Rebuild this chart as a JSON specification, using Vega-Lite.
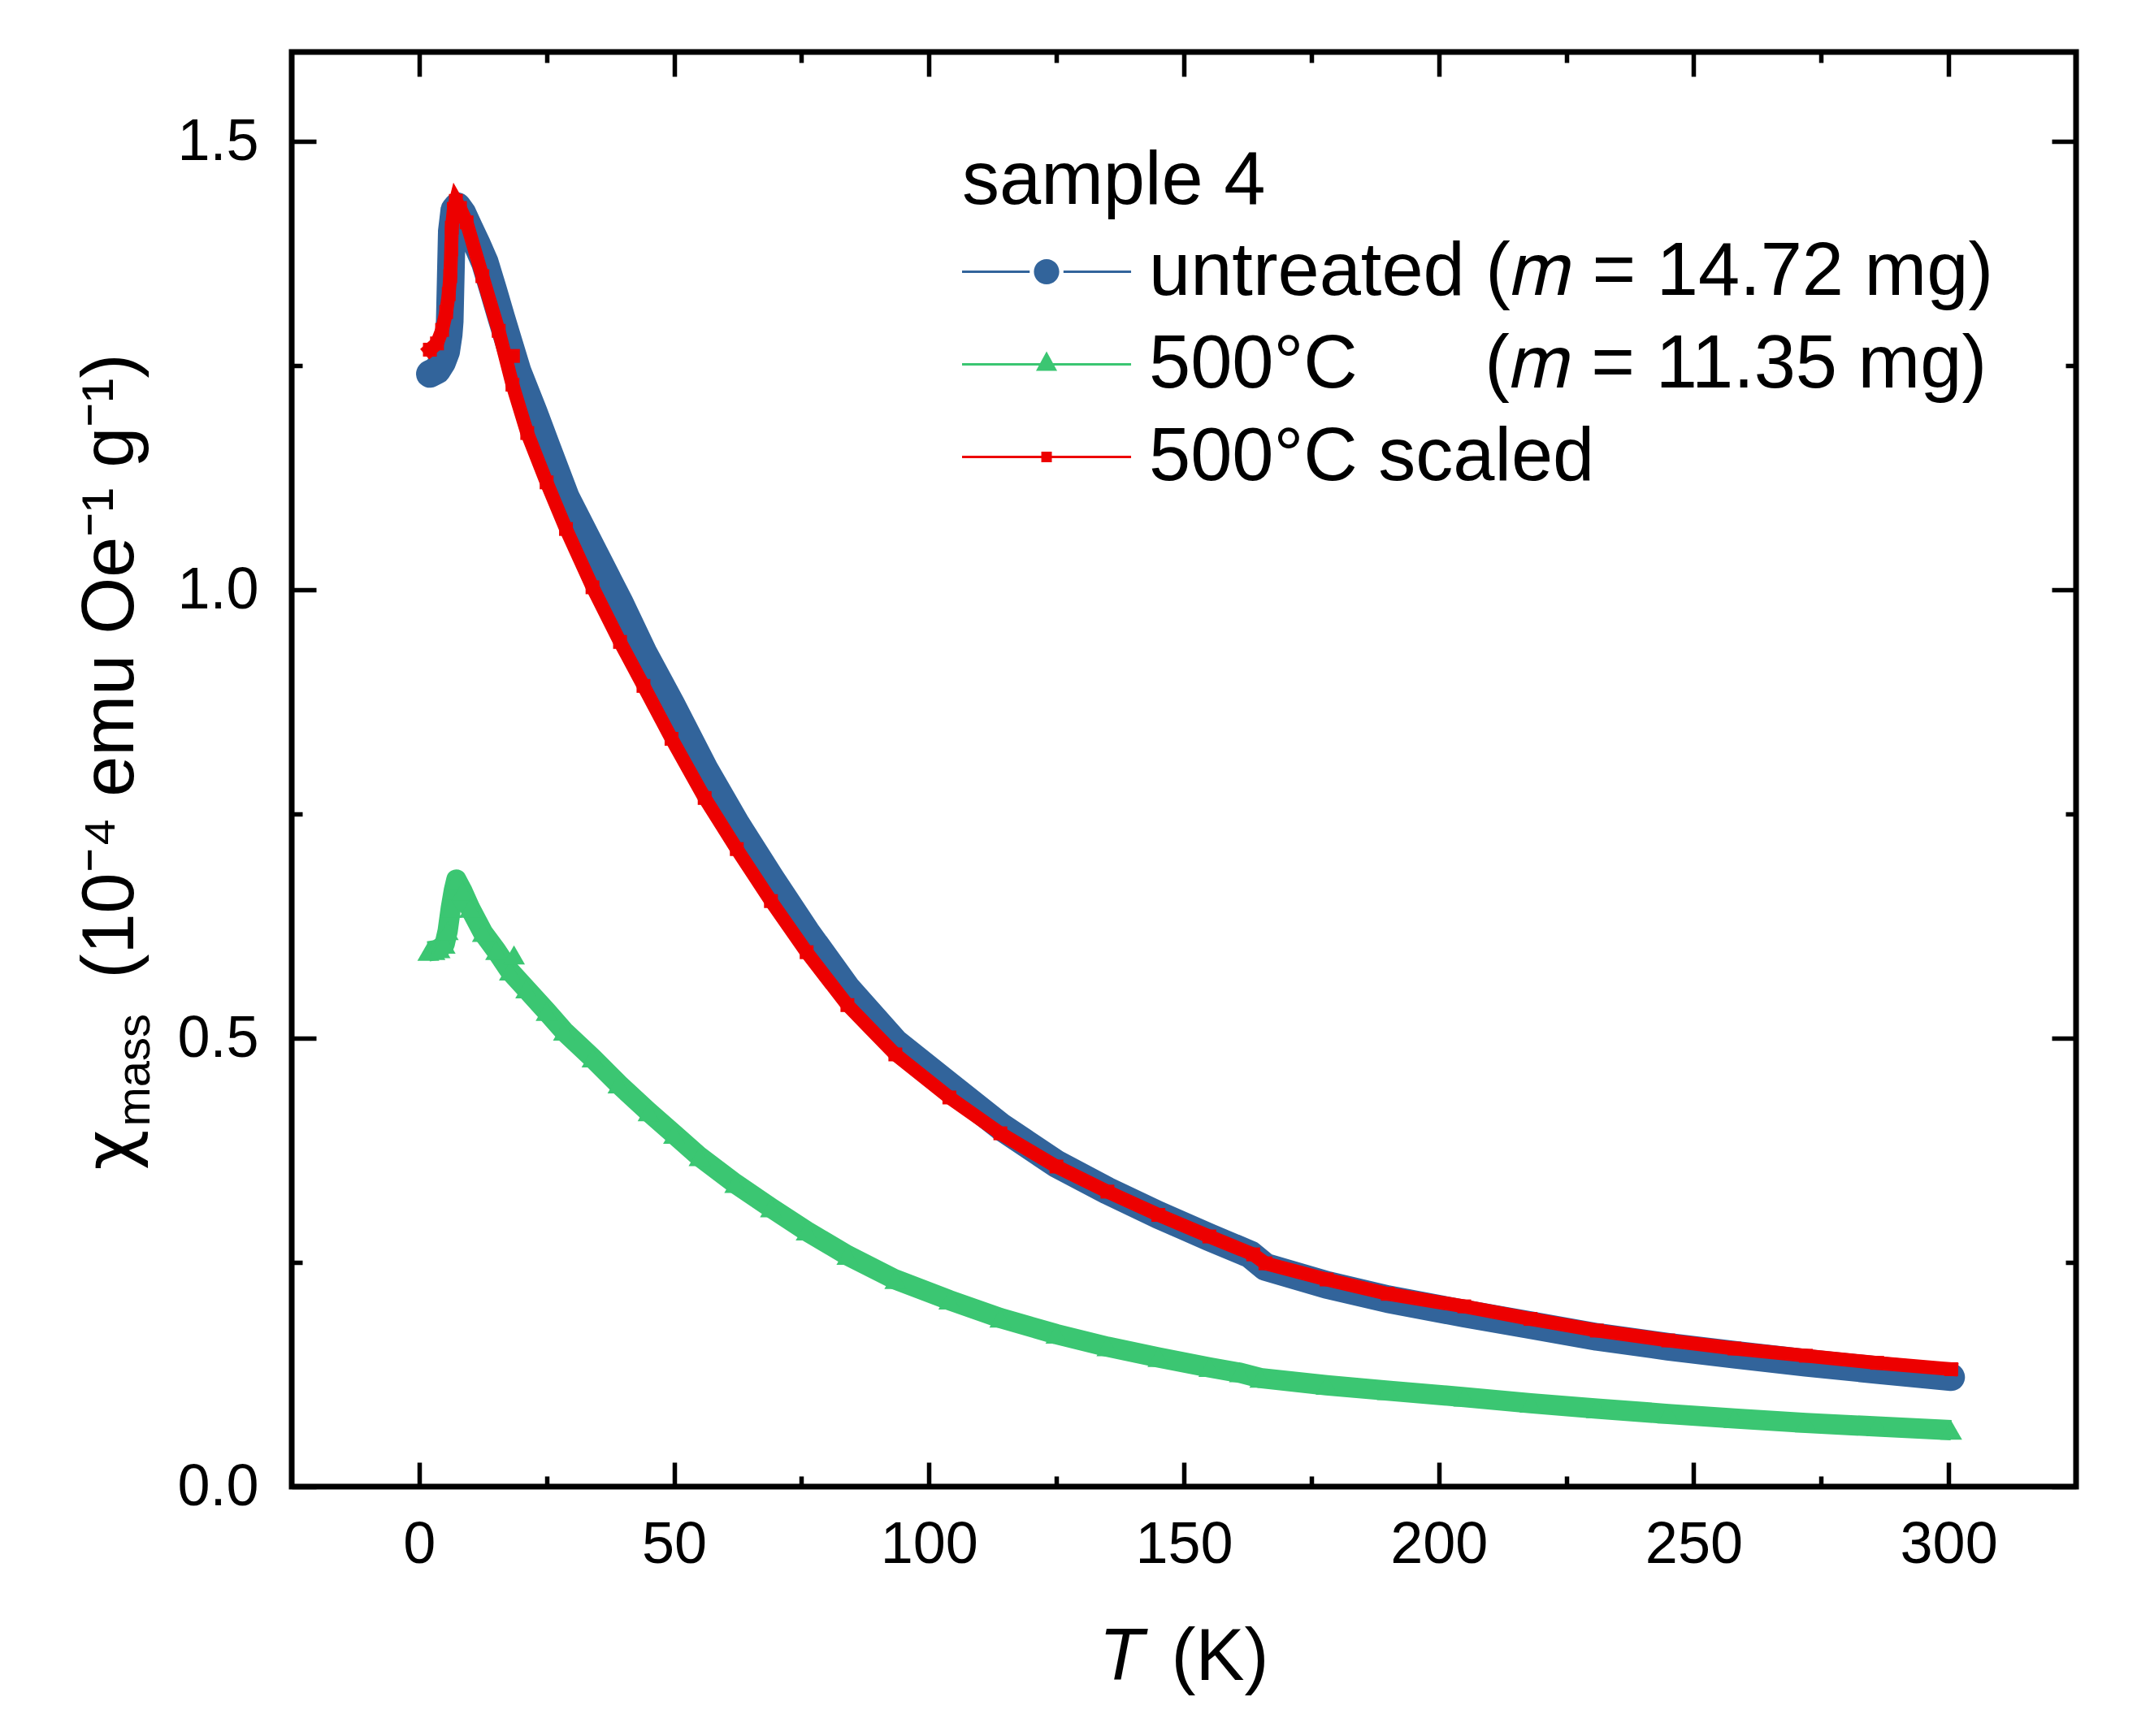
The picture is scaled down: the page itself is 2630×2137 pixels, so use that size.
{
  "$schema": "https://vega.github.io/schema/vega-lite/v6.json",
  "width": 2196,
  "height": 1766,
  "autosize": {"type": "none"},
  "padding": {"left": 359, "top": 64, "right": 75, "bottom": 307},
  "background": "white",
  "config": {
    "font": "Liberation Sans",
    "view": {"stroke": "black", "strokeWidth": 7},
    "axis": {
      "domain": false, "grid": false, "tickColor": "black", "tickWidth": 5.5,
      "labelColor": "black", "titleColor": "black", "titleFontWeight": "normal",
      "labelFont": "Liberation Sans", "titleFont": "Liberation Sans"
    }
  },
  "data": {
    "values": [
      {"series": "untreated", "T": 2.1, "chi": 1.241},
      {"series": "untreated", "T": 3.5, "chi": 1.245},
      {"series": "untreated", "T": 4.5, "chi": 1.254},
      {"series": "untreated", "T": 5.3, "chi": 1.266},
      {"series": "untreated", "T": 5.8, "chi": 1.285},
      {"series": "untreated", "T": 6.0, "chi": 1.30},
      {"series": "untreated", "T": 6.2, "chi": 1.35},
      {"series": "untreated", "T": 6.4, "chi": 1.40},
      {"series": "untreated", "T": 6.9, "chi": 1.424},
      {"series": "untreated", "T": 7.5, "chi": 1.428},
      {"series": "untreated", "T": 8.5, "chi": 1.42},
      {"series": "untreated", "T": 9.8, "chi": 1.404},
      {"series": "untreated", "T": 11.3, "chi": 1.386},
      {"series": "untreated", "T": 12.9, "chi": 1.365},
      {"series": "untreated", "T": 14.5, "chi": 1.335},
      {"series": "untreated", "T": 16.1, "chi": 1.304},
      {"series": "untreated", "T": 17.7, "chi": 1.274},
      {"series": "untreated", "T": 19.3, "chi": 1.244},
      {"series": "untreated", "T": 22.5, "chi": 1.198},
      {"series": "untreated", "T": 25, "chi": 1.16},
      {"series": "untreated", "T": 28.8, "chi": 1.103},
      {"series": "untreated", "T": 34, "chi": 1.045},
      {"series": "untreated", "T": 39.4, "chi": 0.985},
      {"series": "untreated", "T": 44, "chi": 0.93},
      {"series": "untreated", "T": 49.5, "chi": 0.872},
      {"series": "untreated", "T": 56, "chi": 0.80},
      {"series": "untreated", "T": 62.3, "chi": 0.738},
      {"series": "untreated", "T": 69, "chi": 0.678},
      {"series": "untreated", "T": 76, "chi": 0.618},
      {"series": "untreated", "T": 84, "chi": 0.555},
      {"series": "untreated", "T": 93.4, "chi": 0.495},
      {"series": "untreated", "T": 104, "chi": 0.447},
      {"series": "untreated", "T": 114, "chi": 0.402},
      {"series": "untreated", "T": 125, "chi": 0.36},
      {"series": "untreated", "T": 135, "chi": 0.33},
      {"series": "untreated", "T": 145, "chi": 0.303},
      {"series": "untreated", "T": 155, "chi": 0.278},
      {"series": "untreated", "T": 163, "chi": 0.259},
      {"series": "untreated", "T": 166, "chi": 0.245},
      {"series": "untreated", "T": 178, "chi": 0.225},
      {"series": "untreated", "T": 190, "chi": 0.209},
      {"series": "untreated", "T": 205, "chi": 0.193},
      {"series": "untreated", "T": 218, "chi": 0.180},
      {"series": "untreated", "T": 231, "chi": 0.167},
      {"series": "untreated", "T": 245, "chi": 0.156},
      {"series": "untreated", "T": 258, "chi": 0.147},
      {"series": "untreated", "T": 272, "chi": 0.138},
      {"series": "untreated", "T": 286, "chi": 0.130},
      {"series": "untreated", "T": 300.5, "chi": 0.122},

      {"series": "500°C", "T": 1.8, "chi": 0.597},
      {"series": "500°C", "T": 3, "chi": 0.598},
      {"series": "500°C", "T": 4, "chi": 0.600},
      {"series": "500°C", "T": 5, "chi": 0.605},
      {"series": "500°C", "T": 5.6, "chi": 0.62},
      {"series": "500°C", "T": 6.2, "chi": 0.645},
      {"series": "500°C", "T": 6.8, "chi": 0.665},
      {"series": "500°C", "T": 7.3, "chi": 0.677},
      {"series": "500°C", "T": 8.5, "chi": 0.664},
      {"series": "500°C", "T": 10, "chi": 0.645},
      {"series": "500°C", "T": 12.5, "chi": 0.618},
      {"series": "500°C", "T": 15.1, "chi": 0.598},
      {"series": "500°C", "T": 17.8, "chi": 0.575},
      {"series": "500°C", "T": 18.6, "chi": 0.593, "out": 1},
      {"series": "500°C", "T": 21, "chi": 0.555},
      {"series": "500°C", "T": 25, "chi": 0.53},
      {"series": "500°C", "T": 28.4, "chi": 0.508},
      {"series": "500°C", "T": 34, "chi": 0.478},
      {"series": "500°C", "T": 39.1, "chi": 0.449},
      {"series": "500°C", "T": 45, "chi": 0.418},
      {"series": "500°C", "T": 50, "chi": 0.393},
      {"series": "500°C", "T": 55, "chi": 0.368},
      {"series": "500°C", "T": 62, "chi": 0.338},
      {"series": "500°C", "T": 69, "chi": 0.311},
      {"series": "500°C", "T": 76, "chi": 0.285},
      {"series": "500°C", "T": 84, "chi": 0.258},
      {"series": "500°C", "T": 93.4, "chi": 0.231},
      {"series": "500°C", "T": 104, "chi": 0.208},
      {"series": "500°C", "T": 114, "chi": 0.188},
      {"series": "500°C", "T": 125, "chi": 0.170},
      {"series": "500°C", "T": 135, "chi": 0.156},
      {"series": "500°C", "T": 145, "chi": 0.144},
      {"series": "500°C", "T": 155, "chi": 0.133},
      {"series": "500°C", "T": 161, "chi": 0.127},
      {"series": "500°C", "T": 165, "chi": 0.121},
      {"series": "500°C", "T": 178, "chi": 0.113},
      {"series": "500°C", "T": 190, "chi": 0.107},
      {"series": "500°C", "T": 205, "chi": 0.0998},
      {"series": "500°C", "T": 218, "chi": 0.093},
      {"series": "500°C", "T": 231, "chi": 0.087},
      {"series": "500°C", "T": 245, "chi": 0.081},
      {"series": "500°C", "T": 258, "chi": 0.076},
      {"series": "500°C", "T": 272, "chi": 0.071},
      {"series": "500°C", "T": 286, "chi": 0.067},
      {"series": "500°C", "T": 300.5, "chi": 0.063},

      {"series": "500°C scaled", "T": 2.1, "chi": 1.268},
      {"series": "500°C scaled", "T": 3.5, "chi": 1.275},
      {"series": "500°C scaled", "T": 4.5, "chi": 1.29},
      {"series": "500°C scaled", "T": 5.3, "chi": 1.31},
      {"series": "500°C scaled", "T": 5.8, "chi": 1.33},
      {"series": "500°C scaled", "T": 6.1, "chi": 1.35},
      {"series": "500°C scaled", "T": 6.3, "chi": 1.38},
      {"series": "500°C scaled", "T": 6.4, "chi": 1.404},
      {"series": "500°C scaled", "T": 6.8, "chi": 1.425},
      {"series": "500°C scaled", "T": 7.2, "chi": 1.434},
      {"series": "500°C scaled", "T": 8.0, "chi": 1.426},
      {"series": "500°C scaled", "T": 9.3, "chi": 1.41},
      {"series": "500°C scaled", "T": 12.4, "chi": 1.35},
      {"series": "500°C scaled", "T": 15.6, "chi": 1.289},
      {"series": "500°C scaled", "T": 18.3, "chi": 1.229},
      {"series": "500°C scaled", "T": 18.4, "chi": 1.261, "out": 1},
      {"series": "500°C scaled", "T": 21.2, "chi": 1.175},
      {"series": "500°C scaled", "T": 25, "chi": 1.12},
      {"series": "500°C scaled", "T": 28.8, "chi": 1.068},
      {"series": "500°C scaled", "T": 34, "chi": 1.003},
      {"series": "500°C scaled", "T": 39.4, "chi": 0.942},
      {"series": "500°C scaled", "T": 44, "chi": 0.893},
      {"series": "500°C scaled", "T": 49.5, "chi": 0.834},
      {"series": "500°C scaled", "T": 56, "chi": 0.768},
      {"series": "500°C scaled", "T": 62.3, "chi": 0.711},
      {"series": "500°C scaled", "T": 69, "chi": 0.653},
      {"series": "500°C scaled", "T": 76, "chi": 0.596},
      {"series": "500°C scaled", "T": 84, "chi": 0.537},
      {"series": "500°C scaled", "T": 93.4, "chi": 0.482},
      {"series": "500°C scaled", "T": 104, "chi": 0.434},
      {"series": "500°C scaled", "T": 114, "chi": 0.394},
      {"series": "500°C scaled", "T": 125, "chi": 0.357},
      {"series": "500°C scaled", "T": 135, "chi": 0.329},
      {"series": "500°C scaled", "T": 145, "chi": 0.303},
      {"series": "500°C scaled", "T": 155, "chi": 0.279},
      {"series": "500°C scaled", "T": 163.6, "chi": 0.259},
      {"series": "500°C scaled", "T": 166, "chi": 0.249},
      {"series": "500°C scaled", "T": 178, "chi": 0.231},
      {"series": "500°C scaled", "T": 190, "chi": 0.215},
      {"series": "500°C scaled", "T": 205, "chi": 0.201},
      {"series": "500°C scaled", "T": 218, "chi": 0.187},
      {"series": "500°C scaled", "T": 231, "chi": 0.174},
      {"series": "500°C scaled", "T": 245, "chi": 0.163},
      {"series": "500°C scaled", "T": 258, "chi": 0.154},
      {"series": "500°C scaled", "T": 272, "chi": 0.146},
      {"series": "500°C scaled", "T": 286, "chi": 0.138},
      {"series": "500°C scaled", "T": 300.5, "chi": 0.131}
    ]
  },
  "resolve": {"axis": {"x": "independent", "y": "independent"}},
  "layer": [
    {
      "transform": [{"filter": "datum.series == 'untreated' && !datum.out"}],
      "mark": {"type": "line", "color": "#32649B", "strokeWidth": 34, "strokeCap": "round", "strokeJoin": "round"},
      "encoding": {
        "x": {
          "field": "T", "type": "quantitative",
          "scale": {"domain": [-25, 325], "nice": false, "zero": false},
          "axis": {
            "orient": "bottom", "values": [0, 50, 100, 150, 200, 250, 300], "format": "d",
            "tickSize": -30, "labelFontSize": 72, "labelPadding": 66, "labelFlush": false, "labelOverlap": false,
            "title": "(K)", "titleFontSize": 90, "titleX": 1082, "titleY": 237,
            "titleAlign": "left", "titleBaseline": "alphabetic"
          }
        },
        "y": {
          "field": "chi", "type": "quantitative",
          "scale": {"domain": [0, 1.6], "nice": false, "zero": false},
          "axis": {
            "orient": "left", "values": [0, 0.5, 1, 1.5], "format": ".1f",
            "tickSize": -30, "labelFontSize": 72, "labelPadding": 71, "labelFlush": false, "labelOverlap": false,
            "title": "(10⁻⁴ emu Oe⁻¹ g⁻¹)", "titleFontSize": 90, "titleAngle": 270,
            "titleX": -196, "titleY": 1140, "titleAlign": "left", "titleBaseline": "alphabetic"
          }
        }
      }
    },
    {
      "transform": [{"filter": "datum.series == '500°C' && !datum.out"}],
      "mark": {"type": "line", "color": "#3BC672", "strokeWidth": 25, "strokeJoin": "round"},
      "encoding": {
        "x": {
          "field": "T", "type": "quantitative",
          "scale": {"domain": [-25, 325], "nice": false, "zero": false},
          "axis": {"orient": "top", "values": [0, 50, 100, 150, 200, 250, 300], "tickSize": -30, "labels": false, "title": null}
        },
        "y": {
          "field": "chi", "type": "quantitative",
          "scale": {"domain": [0, 1.6], "nice": false, "zero": false},
          "axis": {"orient": "right", "values": [0, 0.5, 1, 1.5], "tickSize": -30, "labels": false, "title": null}
        }
      }
    },
    {
      "transform": [{"filter": "datum.series == '500°C scaled' && !datum.out"}],
      "mark": {"type": "line", "color": "#ED0000", "strokeWidth": 17, "strokeCap": "square", "strokeJoin": "miter"},
      "encoding": {
        "x": {
          "field": "T", "type": "quantitative",
          "scale": {"domain": [-25, 325], "nice": false, "zero": false},
          "axis": {
            "orient": "bottom", "values": [25, 75, 125, 175, 225, 275], "tickSize": -13, "labels": false,
            "title": "T", "titleFontSize": 90, "titleFontStyle": "italic", "titleX": 993, "titleY": 237,
            "titleAlign": "left", "titleBaseline": "alphabetic"
          }
        },
        "y": {
          "field": "chi", "type": "quantitative",
          "scale": {"domain": [0, 1.6], "nice": false, "zero": false},
          "axis": {
            "orient": "left", "values": [0.25, 0.75, 1.25], "tickSize": -13, "labels": false,
            "title": "χ", "titleFont": "DejaVu Sans", "titleFontSize": 86, "titleAngle": 270,
            "titleX": -196, "titleY": 1376, "titleAlign": "left", "titleBaseline": "alphabetic"
          }
        }
      }
    },
    {
      "transform": [{"filter": "datum.series == '500°C'"}],
      "mark": {"type": "point", "shape": "triangle-up", "size": 729, "filled": true, "opacity": 1, "strokeWidth": 0},
      "encoding": {
        "x": {
          "field": "T", "type": "quantitative",
          "scale": {"domain": [-25, 325], "nice": false, "zero": false},
          "axis": {"orient": "top", "values": [25, 75, 125, 175, 225, 275], "tickSize": -13, "labels": false, "title": null}
        },
        "y": {
          "field": "chi", "type": "quantitative",
          "scale": {"domain": [0, 1.6], "nice": false, "zero": false},
          "axis": {"orient": "right", "values": [0.25, 0.75, 1.25], "tickSize": -13, "labels": false, "title": null}
        },
        "color": {
          "field": "series", "type": "nominal",
          "scale": {"domain": ["untreated", "500°C", "500°C scaled"], "range": ["#32649B", "#3BC672", "#ED0000"]},
          "legend": {
            "title": "sample 4", "orient": "none", "legendX": 825, "legendY": 114, "padding": 0, "offset": 0,
            "titleFontSize": 92, "titleFont": "Liberation Sans", "titleFontWeight": "normal", "titleColor": "black",
            "titleLimit": 0, "titlePadding": -3,
            "labelFontSize": 92, "labelFont": "Liberation Sans", "labelColor": "black", "labelLimit": 0, "labelOffset": 95,
            "symbolSize": 18225, "symbolStrokeWidth": 0, "symbolOpacity": 1, "rowPadding": 0,
            "labelExpr": "datum.label == 'untreated' ? 'untreated (𝑚 = 14.72 mg)' : datum.label == '500°C' ? '500°C\u2003\u2002\u2009(𝑚 = 11.35 mg)' : datum.label",
            "encode": {
              "symbols": {
                "update": {
                  "shape": {"signal": "datum.value == 'untreated' ? 'M-1,-0.022H0.233V0.022H-1ZM0.849,-0.022H2.082V0.022H0.849ZM0.772,0A0.231,0.231,0,1,1,0.31,0A0.231,0.231,0,1,1,0.772,0Z' : datum.value == '500°C' ? 'M-1,-0.022H2.082V0.022H-1ZM0.541,-0.237L0.734,0.119L0.348,0.119Z' : 'M-1,-0.022H2.082V0.022H-1ZM0.445,-0.096H0.637V0.096H0.445Z'"}
                }
              }
            }
          }
        }
      }
    },
    {
      "transform": [{"filter": "datum.series == '500°C scaled'"}],
      "mark": {"type": "point", "shape": "square", "size": 289, "filled": true, "opacity": 1, "strokeWidth": 0},
      "encoding": {
        "x": {
          "field": "T", "type": "quantitative",
          "scale": {"domain": [-25, 325], "nice": false, "zero": false},
          "axis": null
        },
        "y": {
          "field": "chi", "type": "quantitative",
          "scale": {"domain": [0, 1.6], "nice": false, "zero": false},
          "axis": {
            "orient": "left", "ticks": false, "labels": false,
            "title": "mass", "titleFontSize": 58, "titleAngle": 270,
            "titleX": -176, "titleY": 1322, "titleAlign": "left", "titleBaseline": "alphabetic"
          }
        },
        "color": {
          "field": "series", "type": "nominal",
          "scale": {"domain": ["untreated", "500°C", "500°C scaled"], "range": ["#32649B", "#3BC672", "#ED0000"]},
          "legend": {
            "title": "sample 4", "orient": "none", "legendX": 825, "legendY": 114, "padding": 0, "offset": 0,
            "titleFontSize": 92, "titleFont": "Liberation Sans", "titleFontWeight": "normal", "titleColor": "black",
            "titleLimit": 0, "titlePadding": -3,
            "labelFontSize": 92, "labelFont": "Liberation Sans", "labelColor": "black", "labelLimit": 0, "labelOffset": 95,
            "symbolSize": 18225, "symbolStrokeWidth": 0, "symbolOpacity": 1, "rowPadding": 0,
            "labelExpr": "datum.label == 'untreated' ? 'untreated (𝑚 = 14.72 mg)' : datum.label == '500°C' ? '500°C\u2003\u2002\u2009(𝑚 = 11.35 mg)' : datum.label",
            "encode": {
              "symbols": {
                "update": {
                  "shape": {"signal": "datum.value == 'untreated' ? 'M-1,-0.022H0.233V0.022H-1ZM0.849,-0.022H2.082V0.022H0.849ZM0.772,0A0.231,0.231,0,1,1,0.31,0A0.231,0.231,0,1,1,0.772,0Z' : datum.value == '500°C' ? 'M-1,-0.022H2.082V0.022H-1ZM0.541,-0.237L0.734,0.119L0.348,0.119Z' : 'M-1,-0.022H2.082V0.022H-1ZM0.445,-0.096H0.637V0.096H0.445Z'"}
                }
              }
            }
          }
        }
      }
    }
  ]
}
